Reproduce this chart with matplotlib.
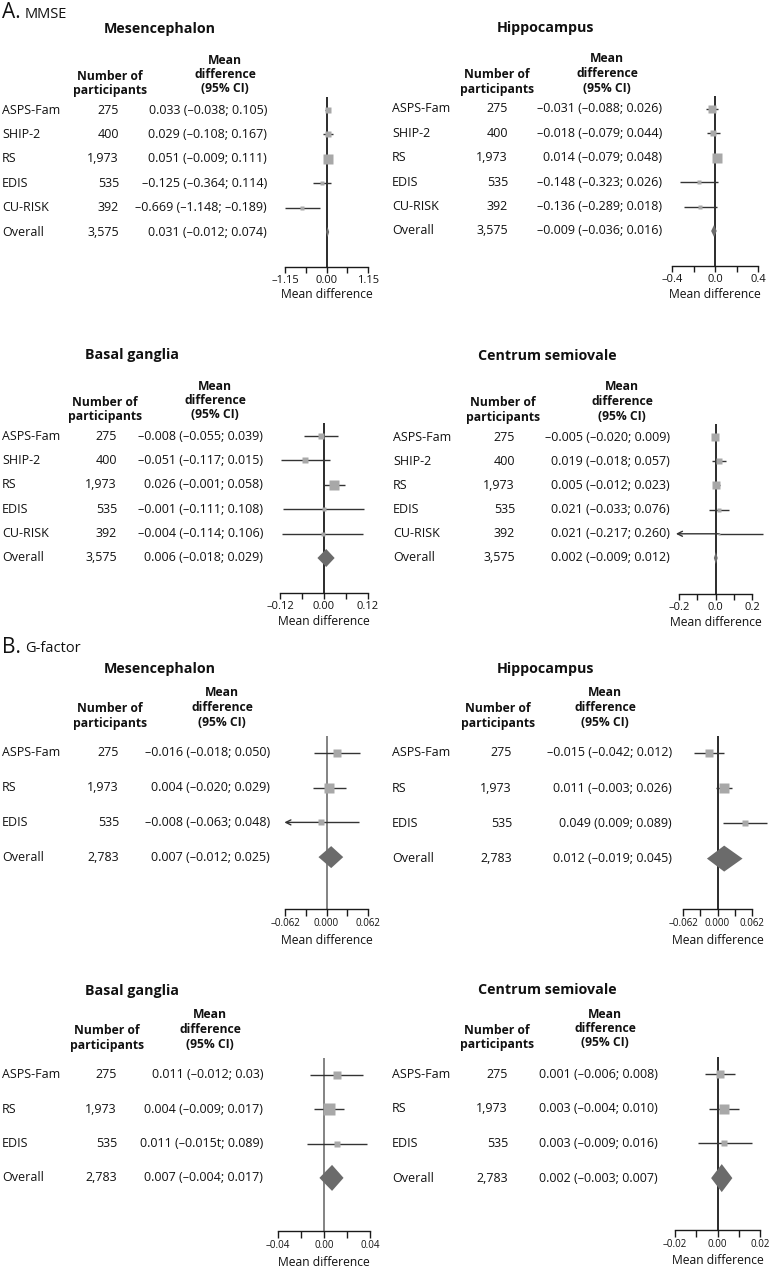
import numpy as np
import matplotlib
matplotlib.use("Agg")
import matplotlib.pyplot as plt

plt.rcParams['font.family'] = ['Open Sans', 'DejaVu Sans']

W, H = 770, 1268

# ---- data -------------------------------------------------------------
studies_a = ["ASPS-Fam", "SHIP-2", "RS", "EDIS", "CU-RISK", "Overall"]
n_a = ["275", "400", "1,973", "535", "392", "3,575"]
studies_b = ["ASPS-Fam", "RS", "EDIS", "Overall"]
n_b = ["275", "1,973", "535", "2,783"]

# MMSE
a_mes_txt = ["0.033 (–0.038; 0.105)", "0.029 (–0.108; 0.167)", "0.051 (–0.009; 0.111)",
             "–0.125 (–0.364; 0.114)", "–0.669 (–1.148; –0.189)", "0.031 (–0.012; 0.074)"]
a_mes_est = [0.033, 0.029, 0.051, -0.125, -0.669, 0.031]
a_mes_lo = [-0.038, -0.108, -0.009, -0.364, -1.148, -0.012]
a_mes_hi = [0.105, 0.167, 0.111, 0.114, -0.189, 0.074]
a_mes_w = [30, 21, 53, 13, 7]

a_hip_txt = ["–0.031 (–0.088; 0.026)", "–0.018 (–0.079; 0.044)", "0.014 (–0.079; 0.048)",
             "–0.148 (–0.323; 0.026)", "–0.136 (–0.289; 0.018)", "–0.009 (–0.036; 0.016)"]
a_hip_est = [-0.031, -0.018, 0.014, -0.148, -0.136, -0.009]
a_hip_lo = [-0.088, -0.079, -0.019, -0.323, -0.289, -0.036]
a_hip_hi = [0.026, 0.044, 0.048, 0.026, 0.018, 0.016]
a_hip_w = [40, 30, 53, 13, 13]

a_bg_txt = ["–0.008 (–0.055; 0.039)", "–0.051 (–0.117; 0.015)", "0.026 (–0.001; 0.058)",
            "–0.001 (–0.111; 0.108)", "–0.004 (–0.114; 0.106)", "0.006 (–0.018; 0.029)"]
a_bg_est = [-0.008, -0.051, 0.026, -0.001, -0.004, 0.006]
a_bg_lo = [-0.055, -0.117, -0.001, -0.111, -0.114, -0.018]
a_bg_hi = [0.039, 0.015, 0.058, 0.108, 0.106, 0.029]
a_bg_w = [30, 21, 67, 7, 7]

a_cs_txt = ["–0.005 (–0.020; 0.009)", "0.019 (–0.018; 0.057)", "0.005 (–0.012; 0.023)",
            "0.021 (–0.033; 0.076)", "0.021 (–0.217; 0.260)", "0.002 (–0.009; 0.012)"]
a_cs_est = [-0.005, 0.019, 0.005, 0.021, 0.021, 0.002]
a_cs_lo = [-0.020, -0.018, -0.012, -0.033, -0.217, -0.009]
a_cs_hi = [0.009, 0.057, 0.023, 0.076, 0.260, 0.012]
a_cs_w = [40, 21, 40, 13, 5]

# G-factor
b_mes_txt = ["–0.016 (–0.018; 0.050)", "0.004 (–0.020; 0.029)",
             "–0.008 (–0.063; 0.048)", "0.007 (–0.012; 0.025)"]
b_mes_est = [0.016, 0.004, -0.008, 0.007]
b_mes_lo = [-0.018, -0.020, -0.063, -0.012]
b_mes_hi = [0.050, 0.029, 0.048, 0.025]
b_mes_w = [40, 67, 21]

b_hip_txt = ["–0.015 (–0.042; 0.012)", "0.011 (–0.003; 0.026)",
             "0.049 (0.009; 0.089)", "0.012 (–0.019; 0.045)"]
b_hip_est = [-0.015, 0.011, 0.049, 0.012]
b_hip_lo = [-0.042, -0.003, 0.009, -0.019]
b_hip_hi = [0.012, 0.026, 0.089, 0.045]
b_hip_w = [40, 67, 30]

b_bg_txt = ["0.011 (–0.012; 0.03)", "0.004 (–0.009; 0.017)",
            "0.011 (–0.015t; 0.089)", "0.007 (–0.004; 0.017)"]
b_bg_est = [0.011, 0.004, 0.011, 0.007]
b_bg_lo = [-0.012, -0.009, -0.015, -0.004]
b_bg_hi = [0.034, 0.017, 0.037, 0.017]
b_bg_w = [40, 83, 30]

b_cs_txt = ["0.001 (–0.006; 0.008)", "0.003 (–0.004; 0.010)",
            "0.003 (–0.009; 0.016)", "0.002 (–0.003; 0.007)"]
b_cs_est = [0.001, 0.003, 0.003, 0.002]
b_cs_lo = [-0.006, -0.004, -0.009, -0.003]
b_cs_hi = [0.008, 0.010, 0.016, 0.007]
b_cs_w = [40, 53, 21]

ticks_a_mes = ["–1.15", "0.00", "1.15"]
ticks_a_hip = ["–0.4", "0.0", "0.4"]
ticks_a_bg = ["–0.12", "0.00", "0.12"]
ticks_a_cs = ["–0.2", "0.0", "0.2"]
ticks_b_062 = ["–0.062", "0.000", "0.062"]
ticks_b_bg = ["–0.04", "0.00", "0.04"]
ticks_b_cs = ["–0.02", "0.00", "0.02"]

# ---- layout (pixels) ----------------------------------------------------
panels = [
    dict(title="Mesencephalon", names=studies_a, n=n_a, txt=a_mes_txt, est=a_mes_est, lo=a_mes_lo,
         hi=a_mes_hi, w=a_mes_w, lim=1.15, tl=ticks_a_mes, sec="A",
         name_x=2, num_r=119, ci_r=267, num_cx=110, md_cx=225, title_cx=160, px=(285, 368),
         r0=110, dr=24.4, dh=5, zc="#1a1a1a"),
    dict(title="Hippocampus", names=studies_a, n=n_a, txt=a_hip_txt, est=a_hip_est, lo=a_hip_lo,
         hi=a_hip_hi, w=a_hip_w, lim=0.4, tl=ticks_a_hip, sec="A",
         name_x=392, num_r=508, ci_r=662, num_cx=497, md_cx=607, title_cx=545, px=(672, 758),
         r0=109, dr=24.4, dh=6, zc="#1a1a1a"),
    dict(title="Basal ganglia", names=studies_a, n=n_a, txt=a_bg_txt, est=a_bg_est, lo=a_bg_lo,
         hi=a_bg_hi, w=a_bg_w, lim=0.12, tl=ticks_a_bg, sec="A",
         name_x=2, num_r=117, ci_r=263, num_cx=105, md_cx=215, title_cx=132, px=(280, 368),
         r0=436, dr=24.4, dh=9, zc="#1a1a1a"),
    dict(title="Centrum semiovale", names=studies_a, n=n_a, txt=a_cs_txt, est=a_cs_est, lo=a_cs_lo,
         hi=a_cs_hi, w=a_cs_w, lim=0.2, tl=ticks_a_cs, sec="A",
         name_x=393, num_r=515, ci_r=670, num_cx=503, md_cx=622, title_cx=547, px=(679, 752),
         r0=437, dr=24.2, dh=6, zc="#1a1a1a"),
    dict(title="Mesencephalon", names=studies_b, n=n_b, txt=b_mes_txt, est=b_mes_est, lo=b_mes_lo,
         hi=b_mes_hi, w=b_mes_w, lim=0.062, tl=ticks_b_062, sec="B",
         name_x=2, num_r=119, ci_r=270, num_cx=110, md_cx=222, title_cx=160, px=(285, 368),
         r0=753, dr=34.7, dh=11, zc="#7a7a7a"),
    dict(title="Hippocampus", names=studies_b, n=n_b, txt=b_hip_txt, est=b_hip_est, lo=b_hip_lo,
         hi=b_hip_hi, w=b_hip_w, lim=0.062, tl=ticks_b_062, sec="B",
         name_x=392, num_r=512, ci_r=672, num_cx=498, md_cx=605, title_cx=545, px=(683, 752),
         r0=753, dr=35.2, dh=13, zc="#1a1a1a"),
    dict(title="Basal ganglia", names=studies_b, n=n_b, txt=b_bg_txt, est=b_bg_est, lo=b_bg_lo,
         hi=b_bg_hi, w=b_bg_w, lim=0.04, tl=ticks_b_bg, sec="B",
         name_x=2, num_r=117, ci_r=263, num_cx=107, md_cx=210, title_cx=132, px=(278, 370),
         r0=1075, dr=34.3, dh=13, zc="#7a7a7a"),
    dict(title="Centrum semiovale", names=studies_b, n=n_b, txt=b_cs_txt, est=b_cs_est, lo=b_cs_lo,
         hi=b_cs_hi, w=b_cs_w, lim=0.02, tl=ticks_b_cs, sec="B",
         name_x=392, num_r=508, ci_r=658, num_cx=497, md_cx=605, title_cx=547, px=(675, 760),
         r0=1074, dr=34.7, dh=14, zc="#1a1a1a"),
]

fig = plt.figure(figsize=(W / 100, H / 100), dpi=100)


def ftext(x, y, s, **kw):
    fig.text(x / W, 1 - y / H, s, **kw)


FS = 9
ftext(2, 13, "A.", fontsize=15, va="center", ha="left", color="#111")
ftext(25, 14, "MMSE", fontsize=10.5, va="center", ha="left", color="#111")
ftext(2, 647, "B.", fontsize=15, va="center", ha="left", color="#111")
ftext(25, 648, "G-factor", fontsize=10.5, va="center", ha="left", color="#111")

for p in panels:
    r0, dr = p["r0"], p["dr"]
    if p["sec"] == "A":
        off = dict(title=-81, mean=-50, num=-34, top=-13, axis=157, tick=6, fs_t=8, md=28)
    else:
        off = dict(title=-84, mean=-60, num=-44, top=-17, axis=156, tick=7, fs_t=7, md=31)

    # headers
    ftext(p["title_cx"], r0 + off["title"], p["title"], fontsize=10.3, fontweight="bold",
          ha="center", va="center", color="#111")
    for k, line in enumerate(["Mean", "difference", "(95% CI)"]):
        ftext(p["md_cx"], r0 + off["mean"] + 14.5 * k, line, fontsize=8.7, fontweight="bold",
              ha="center", va="center", color="#111")
    for k, line in enumerate(["Number of", "participants"]):
        ftext(p["num_cx"], r0 + off["num"] + 14.5 * k, line, fontsize=8.7, fontweight="bold",
              ha="center", va="center", color="#111")

    # table rows
    for i, (nm, nn, tx) in enumerate(zip(p["names"], p["n"], p["txt"])):
        y = r0 + i * dr
        ftext(p["name_x"], y, nm, fontsize=FS, ha="left", va="center", color="#111")
        ftext(p["num_r"], y, nn, fontsize=FS, ha="right", va="center", color="#111")
        ftext(p["ci_r"], y, tx, fontsize=FS, ha="right", va="center", color="#111")

    # forest axes
    x0, x1 = p["px"]
    ytop = r0 + off["top"]
    yax = r0 + off["axis"]
    ax = fig.add_axes([x0 / W, 1 - yax / H, (x1 - x0) / W, (yax - ytop) / H])
    ax.patch.set_alpha(0)
    t = p["lim"]
    ax.set_xlim(-t, t)
    ax.set_ylim((yax - r0) / dr, (ytop - r0) / dr)

    nst = len(p["est"])
    rows = np.arange(nst)
    ax.axvline(0, color=p["zc"], lw=1.3, zorder=1)
    for i in range(nst - 1):
        lo, hi, est = p["lo"][i], p["hi"][i], p["est"][i]
        if lo < -t:
            ax.hlines(rows[i], est, hi, color="#333333", lw=1.0, zorder=2, clip_on=False)
            ax.annotate("", xy=(lo, rows[i]), xytext=(est, rows[i]), annotation_clip=False,
                        arrowprops=dict(arrowstyle="->", lw=1.0, color="#333333",
                                        shrinkA=0, shrinkB=0, mutation_scale=9))
        else:
            ax.hlines(rows[i], lo, hi, color="#333333", lw=1.0, zorder=2, clip_on=False)
        side = 1.25 * np.sqrt(p["w"][i]) / 1.389
        ax.plot(est, rows[i], marker="s", ms=side, color="#a8a8a8", mec="none",
                zorder=3, clip_on=False)
    # overall diamond
    j = nst - 1
    h = p["dh"] / dr
    ax.fill([p["lo"][j], p["est"][j], p["hi"][j], p["est"][j]],
            [rows[j], rows[j] - h, rows[j], rows[j] + h],
            color="#6b6b6b", lw=0, zorder=3, clip_on=False)

    for s in ["top", "right", "left"]:
        ax.spines[s].set_visible(False)
    ax.spines["bottom"].set_bounds(-t, t)
    ax.spines["bottom"].set_color("#1a1a1a")
    ax.spines["bottom"].set_linewidth(1.0)
    ax.set_yticks([])
    ax.set_xticks([-t, -t / 2, 0, t / 2, t])
    ax.set_xticklabels([p["tl"][0], "", p["tl"][1], "", p["tl"][2]])
    ax.tick_params(axis="x", direction="out", length=off["tick"] / 1.389, width=1.0,
                   color="#1a1a1a", pad=1.5, labelsize=off["fs_t"], labelcolor="#111")
    ftext((x0 + x1) / 2, yax + off["md"], "Mean difference", fontsize=8.7, ha="center",
          va="center", color="#111")

fig.savefig("out.png", dpi=100)
